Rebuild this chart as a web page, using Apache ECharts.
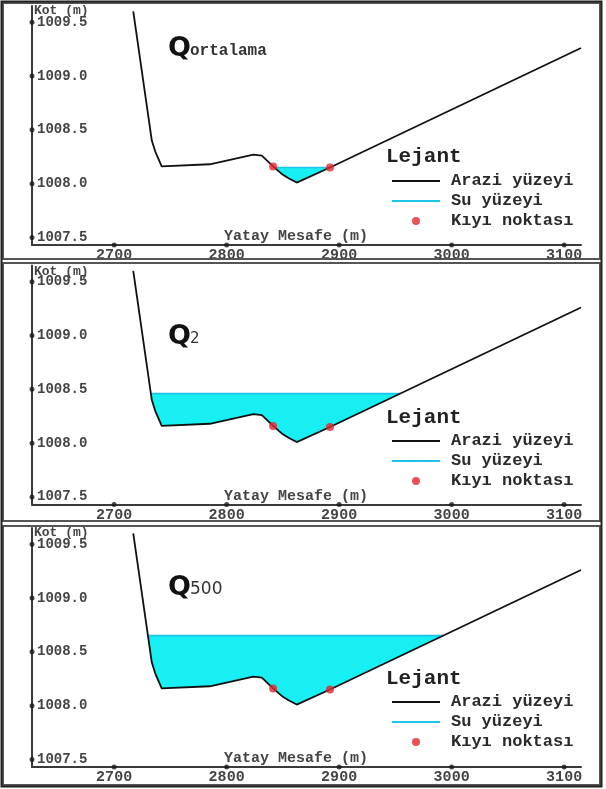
<!DOCTYPE html>
<html>
<head>
<meta charset="utf-8">
<script src="https://cdn.jsdelivr.net/npm/echarts@6/dist/echarts.min.js"></script>
<style>
  html, body { margin: 0; padding: 0; background: #fff; }
  #chart { width: 606px; height: 789px; }
</style>
</head>
<body>
<div id="chart"></div>
<script>
// Ground profile of the cross-section: horizontal distance (m) and elevation (m)
const distance  = [2717.0, 2733.5, 2736.5, 2742.3, 2785.0, 2823.8, 2831.3, 2841.3, 2849.0, 2855.0, 2862.3, 2891.9, 3115.0];
const elevation = [1009.60, 1008.40, 1008.30, 1008.16, 1008.18, 1008.27, 1008.26, 1008.16, 1008.09, 1008.05, 1008.01, 1008.15, 1009.26];

// Bank (shore) points of the main channel
const shoreDistance  = [2841.3, 2891.9];
const shoreElevation = [1008.16, 1008.15];

// Water surface elevation for each discharge case
const caseSubscript = ['ortalama', '2', '500'];
const waterLevel    = [1008.15, 1008.46, 1008.65];

// Axis ticks
const xTicks = [2700, 2800, 2900, 3000, 3100];
const yTicks = [1007.5, 1008.0, 1008.5, 1009.0, 1009.5];
const xRange = [2627, 3115];
const yRange = [1007.43, 1009.65];

const MONO = "'Liberation Mono', 'DejaVu Sans Mono', monospace";
const SANS = "'DejaVu Sans', 'Liberation Sans', sans-serif";
const groundName = 'Arazi yüzeyi';
const waterName  = 'Su yüzeyi';
const shoreName  = 'Kıyı noktası';
const groundColor = '#111';
const waterLineColor = '#1fc3ea';
const shoreColor = '#e3262f';

// Part of the profile that lies under a given water level, with the
// crossing points on both banks added so the polygon closes on the surface.
function wetSection(level) {
  const pts = [];
  for (let i = 0; i < distance.length; i++) {
    const x0 = distance[i], y0 = elevation[i];
    if (y0 < level) pts.push([x0, y0]);
    if (i < distance.length - 1) {
      const x1 = distance[i + 1], y1 = elevation[i + 1];
      if ((y0 < level) !== (y1 < level)) {
        const t = (level - y0) / (y1 - y0);
        pts.push([x0 + t * (x1 - x0), level]);
      }
    }
  }
  return pts;
}

// Panel layout (pixel boxes of the three plots)
const gridTops   = [6, 265.5, 528];
const gridHeight = 239;
const legendTops = [171, 431, 692];
const lejantY    = [157, 418, 679];
const kotY       = [11, 272, 533];
const xNameY     = [236, 496, 758];
const qY         = [49, 337, 588];
const subY       = [51, 339, 590];
const subFont    = [[MONO, 16, 'bold'], [SANS, 15, 'normal'], [SANS, 17, 'normal']];

const grids = [], xAxes = [], yAxes = [], series = [], legends = [], graphics = [];

for (let i = 0; i < 3; i++) {
  grids.push({ left: 32, top: gridTops[i], width: 549, height: gridHeight });

  xAxes.push({
    gridIndex: i, type: 'value', min: xRange[0], max: xRange[1],
    axisLine: { lineStyle: { color: '#3a3a3a', width: 2 } },
    axisTick: { show: false },
    splitLine: { show: false },
    axisLabel: {
      customValues: xTicks, margin: 3,
      formatter: v => String(v),
      fontFamily: MONO, fontSize: 15, fontWeight: 'bold', color: '#444'
    }
  });

  yAxes.push({
    gridIndex: i, type: 'value', min: yRange[0], max: yRange[1],
    axisLine: { show: true, lineStyle: { color: '#3a3a3a', width: 2 } },
    axisTick: { show: false },
    splitLine: { show: false },
    axisLabel: {
      customValues: yTicks, inside: true, margin: 5,
      formatter: v => v.toFixed(1),
      fontFamily: MONO, fontSize: 14, fontWeight: 'bold', color: '#444'
    }
  });

  const wet = wetSection(waterLevel[i]);

  // Water body
  series.push({
    type: 'custom', xAxisIndex: i, yAxisIndex: i, silent: true, z: 1, clip: false,
    data: [[0, 0]],
    renderItem: (params, api) => ({
      type: 'polygon',
      shape: { points: wet.map(p => api.coord(p)) },
      style: { fill: '#17eff2' }
    })
  });

  // Water surface line
  series.push({
    name: waterName, type: 'line', xAxisIndex: i, yAxisIndex: i, z: 2,
    symbol: 'none', silent: true,
    itemStyle: { color: waterLineColor },
    lineStyle: { color: waterLineColor, width: 1.6 },
    data: [wet[0], wet[wet.length - 1]]
  });

  // Ground surface
  series.push({
    name: groundName, type: 'line', xAxisIndex: i, yAxisIndex: i, z: 3,
    symbol: 'none', silent: true,
    itemStyle: { color: groundColor },
    lineStyle: { color: groundColor, width: 1.8 },
    data: distance.map((d, k) => [d, elevation[k]])
  });

  // Shore points
  series.push({
    name: shoreName, type: 'scatter', xAxisIndex: i, yAxisIndex: i, z: 4,
    symbol: 'circle', symbolSize: 8, silent: true,
    itemStyle: { color: shoreColor },
    data: shoreDistance.map((d, k) => [d, shoreElevation[k]])
  });

  // Round tick marks on both axes
  series.push({
    type: 'scatter', xAxisIndex: i, yAxisIndex: i, z: 5, clip: false, silent: true,
    symbol: 'circle', symbolSize: 5,
    itemStyle: { color: '#1a1a1a' },
    data: yTicks.map(v => [xRange[0], v]).concat(xTicks.map(v => [v, yRange[0]]))
  });

  legends.push({
    data: [
      { name: groundName, itemStyle: { opacity: 0 } },
      { name: waterName, itemStyle: { opacity: 0 } },
      { name: shoreName, icon: 'circle' }
    ],
    orient: 'vertical', left: 391, top: legendTops[i],
    itemWidth: 48, itemHeight: 8, itemGap: 0, padding: 0,
    selectedMode: false,
    textStyle: {
      fontFamily: MONO, fontSize: 17, fontWeight: 'bold', color: '#2a2a2a',
      lineHeight: 20, padding: [0, 0, 0, 6]
    }
  });

  // Panel frame
  graphics.push({
    type: 'rect', silent: true, z: 10,
    shape: { x: 3, y: [3, 263, 526][i], width: 597, height: [256, 258, 259][i] },
    style: { fill: 'none', stroke: '#555', lineWidth: 2 }
  });

  graphics.push({
    type: 'text', silent: true, z: 10,
    style: { x: 386, y: lejantY[i], text: 'Lejant', fill: '#222',
             font: `bold 21px ${MONO}`, verticalAlign: 'middle' }
  });
  graphics.push({
    type: 'text', silent: true, z: 10,
    style: { x: 34, y: kotY[i], text: 'Kot (m)', fill: '#444',
             font: `bold 13px ${MONO}`, verticalAlign: 'middle' }
  });
  graphics.push({
    type: 'text', silent: true, z: 10,
    style: { x: 296, y: xNameY[i], text: 'Yatay Mesafe (m)', fill: '#444',
             font: `bold 15px ${MONO}`, align: 'center', verticalAlign: 'middle' }
  });
  graphics.push({
    type: 'text', silent: true, z: 10,
    style: { x: 168, y: qY[i], text: 'Q', fill: '#111',
             font: `bold 27px ${SANS}`, verticalAlign: 'middle' }
  });
  const sf = subFont[i];
  graphics.push({
    type: 'text', silent: true, z: 10,
    style: { x: 190, y: subY[i], text: caseSubscript[i], fill: '#333',
             font: `${sf[2]} ${sf[1]}px ${sf[0]}`, verticalAlign: 'middle' }
  });
}

// Outer frame
graphics.push({
  type: 'rect', silent: true, z: 11,
  shape: { x: 1.5, y: 1.5, width: 600, height: 785 },
  style: { fill: 'none', stroke: '#222', lineWidth: 2 }
});

const chart = echarts.init(document.getElementById('chart'), null, { renderer: 'canvas' });
chart.setOption({
  animation: false,
  backgroundColor: '#fff',
  grid: grids,
  xAxis: xAxes,
  yAxis: yAxes,
  legend: legends,
  series: series,
  graphic: graphics
});
</script>
</body>
</html>
